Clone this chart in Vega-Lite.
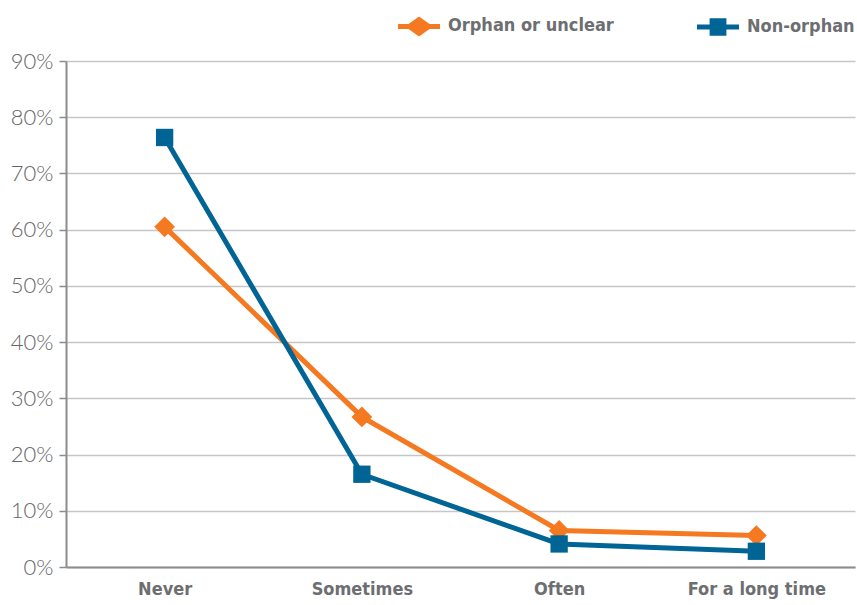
{
  "$schema": "https://vega.github.io/schema/vega-lite/v6.json",
  "width": 789,
  "height": 506,
  "autosize": "none",
  "padding": {"left": 66, "top": 61, "right": 2, "bottom": 38},
  "background": "white",
  "data": {
    "values": [
      {"freq": "Never", "group": "Orphan or unclear", "pct": 0.605},
      {"freq": "Sometimes", "group": "Orphan or unclear", "pct": 0.267},
      {"freq": "Often", "group": "Orphan or unclear", "pct": 0.065},
      {"freq": "For a long time", "group": "Orphan or unclear", "pct": 0.056},
      {"freq": "Never", "group": "Non-orphan", "pct": 0.764},
      {"freq": "Sometimes", "group": "Non-orphan", "pct": 0.165},
      {"freq": "Often", "group": "Non-orphan", "pct": 0.041},
      {"freq": "For a long time", "group": "Non-orphan", "pct": 0.028}
    ]
  },
  "config": {
    "view": {"stroke": null}
  },
  "encoding": {
    "x": {
      "field": "freq",
      "type": "ordinal",
      "sort": ["Never", "Sometimes", "Often", "For a long time"],
      "scale": {"type": "point", "padding": 0.5},
      "axis": {
        "title": null,
        "labelAngle": 0,
        "labelFont": "DejaVu Sans Condensed, Roboto Condensed, Roboto",
        "labelFontWeight": "bold",
        "labelFontSize": 18,
        "labelColor": "#6d6e71",
        "labelPadding": 13,
        "ticks": false,
        "domainColor": "#8c8c8c",
        "domainWidth": 2,
        "grid": false
      }
    },
    "y": {
      "field": "pct",
      "type": "quantitative",
      "scale": {"domain": [0, 0.9], "nice": false},
      "axis": {
        "title": null,
        "format": ".0%",
        "values": [0, 0.1, 0.2, 0.3, 0.4, 0.5, 0.6, 0.7, 0.8, 0.9],
        "labelFont": "Lato",
        "labelFontWeight": 300,
        "labelFontSize": 22,
        "labelColor": "#666666",
        "labelPadding": 6,
        "tickSize": 7,
        "tickColor": "#8c8c8c",
        "tickWidth": 1.5,
        "domainColor": "#8c8c8c",
        "domainWidth": 2,
        "gridColor": "#c6c6c6",
        "gridWidth": 1.5
      }
    }
  },
  "layer": [
    {
      "mark": {"type": "line", "strokeWidth": 5},
      "encoding": {
        "detail": {"field": "group", "type": "nominal"},
        "color": {
          "condition": {"test": "datum.group === 'Orphan or unclear'", "value": "#f47920"},
          "value": "#006595"
        }
      }
    },
    {
      "mark": {"type": "point", "filled": true, "opacity": 1},
      "encoding": {
        "color": {
          "condition": {"test": "datum.group === 'Orphan or unclear'", "value": "#f47920"},
          "value": "#006595"
        },
        "shape": {
          "condition": {"test": "datum.group === 'Orphan or unclear'", "value": "diamond"},
          "value": "square"
        },
        "size": {
          "condition": {"test": "datum.group === 'Orphan or unclear'", "value": 430},
          "value": 300
        }
      }
    },
    {
      "transform": [{"filter": "false"}],
      "mark": {"type": "point", "filled": true, "opacity": 1},
      "encoding": {
        "color": {
          "field": "group",
          "type": "nominal",
          "scale": {"domain": ["Orphan or unclear", "Non-orphan"], "range": ["#f47920", "#006595"]},
          "legend": {
            "title": null,
            "orient": "none",
            "legendX": 332,
            "legendY": -56,
            "direction": "horizontal",
            "symbolSize": 1764,
            "symbolOpacity": 1,
            "symbolStrokeWidth": 0,
            "labelFont": "DejaVu Sans Condensed, Roboto Condensed, Roboto",
            "labelFontWeight": "bold",
            "labelFontSize": 18,
            "labelColor": "#6d6e71",
            "labelOffset": 8,
            "labelLimit": 300,
            "columnPadding": 83
          }
        },
        "shape": {
          "field": "group",
          "type": "nominal",
          "scale": {
            "domain": ["Orphan or unclear", "Non-orphan"],
            "range": [
              "M-1,-0.12L-0.5,-0.12L0,-0.48L0.5,-0.12L1,-0.12L1,0.12L0.5,0.12L0,0.48L-0.5,0.12L-1,0.12Z",
              "M-1,-0.12L-0.4,-0.12L-0.4,-0.42L0.4,-0.42L0.4,-0.12L1,-0.12L1,0.12L0.4,0.12L0.4,0.42L-0.4,0.42L-0.4,0.12L-1,0.12Z"
            ]
          }
        }
      }
    }
  ]
}
